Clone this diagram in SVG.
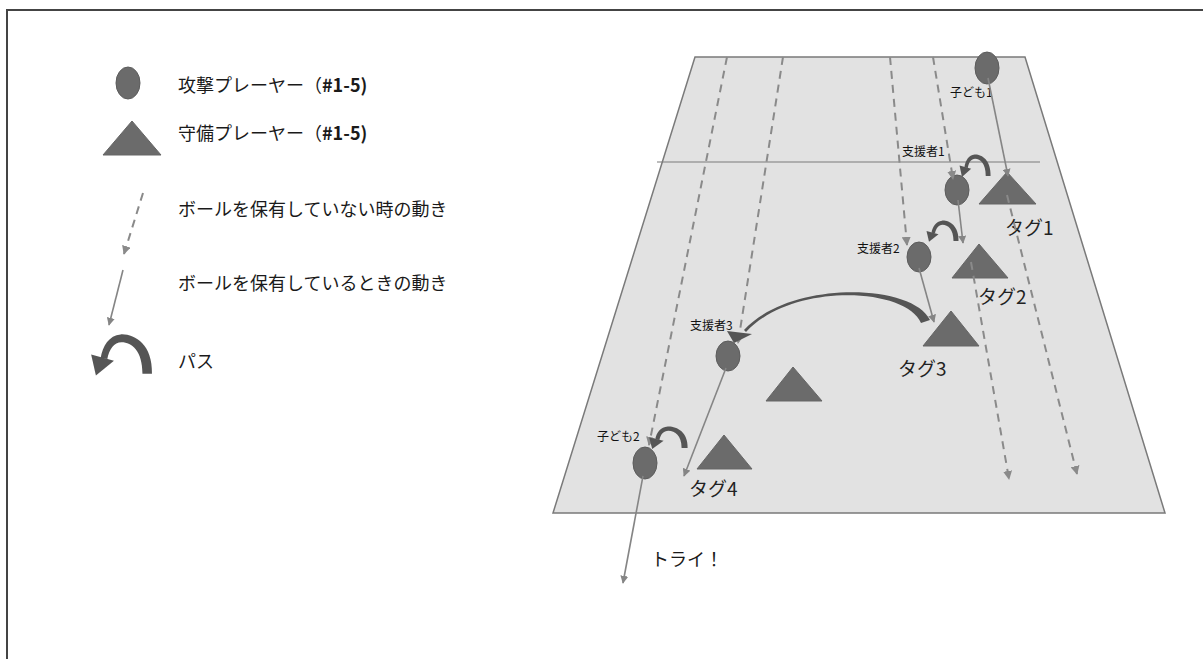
<svg xmlns="http://www.w3.org/2000/svg" xmlns:xlink="http://www.w3.org/1999/xlink" width="1203" height="659" viewBox="0 0 1203 659">
<style>
.jp{font-family:"Noto Sans CJK JP","Noto Sans",sans-serif;fill:#1a1a1a}
.leg{font-size:18px}
.lbl{font-size:12px;fill:#111}
.tag{font-size:19px;fill:#222}
.player{fill:#6b6b6b;stroke:#5c5c5c;stroke-width:1}
.def{fill:#6b6b6b;stroke:#666;stroke-width:1}
.dash{stroke:#8a8a8a;stroke-width:2;fill:none;stroke-dasharray:8 6}
.solid{stroke:#858585;stroke-width:1.6;fill:none}
.pass{fill:#555}
</style>
<defs>
<marker id="ah" viewBox="0 0 10 10" refX="9" refY="5" markerWidth="8" markerHeight="8" markerUnits="userSpaceOnUse" orient="auto">
<path d="M0,0 L10,5 L0,10 Z" fill="#858585"/>
</marker>
<marker id="ahd" viewBox="0 0 10 10" refX="9" refY="5" markerWidth="9" markerHeight="9" markerUnits="userSpaceOnUse" orient="auto">
<path d="M0,0 L10,5 L0,10 Z" fill="#8a8a8a"/>
</marker>
<g id="passShape">
<path d="M30.5 21 C31 4 21 -2 14 -1.5 C8 -1 4.5 5 3.5 12 L7 12.5 C8 7 10.5 3 14.5 3 C20 3 25.5 8 25.5 21 Z"/>
<path d="M-1.5 10 L10.5 13.5 L1 22 Z"/>
</g>
</defs>
<rect width="1203" height="659" fill="#fff"/>
<path d="M7 659 V10 H1203" fill="none" stroke="#444" stroke-width="2"/>

<g id="field">
<polygon points="695,57 1025,57 1165,513 553,513" fill="#e2e2e2" stroke="#7a7a7a" stroke-width="1.5"/>
<line x1="657" y1="162" x2="1040" y2="162" stroke="#7a7a7a" stroke-width="1.2"/>
</g>

<g id="legend">
<g id="legend-attacker">
<ellipse class="player" cx="128" cy="83" rx="12" ry="16"/>
<text class="jp leg" x="178" y="92">攻撃プレーヤー（<tspan font-weight="bold">#1-5)</tspan></text>
</g>
<g id="legend-defender">
<polygon class="def" points="103,155 161,155 132,121"/>
<text class="jp leg" x="178" y="140">守備プレーヤー（<tspan font-weight="bold">#1-5)</tspan></text>
</g>
<g id="legend-nomove">
<line class="dash" x1="143" y1="193" x2="124" y2="254" marker-end="url(#ahd)"/>
<text class="jp leg" x="178" y="216">ボールを保有していない時の動き</text>
</g>
<g id="legend-move">
<line class="solid" x1="123" y1="270" x2="109" y2="325" marker-end="url(#ah)"/>
<text class="jp leg" x="178" y="290">ボールを保有しているときの動き</text>
</g>
<g id="legend-pass">
<use xlink:href="#passShape" class="pass" transform="translate(94,337) scale(1.9,1.75)"/>
<text class="jp leg" x="178" y="368">パス</text>
</g>
</g>

<g id="defenders">
<g id="tag1"><polygon class="def" points="979,204 1036,204 1007,172"/><text class="jp tag" x="1005" y="235">タグ1</text></g>
<g id="tag2"><polygon class="def" points="952,278 1008,278 979,244"/><text class="jp tag" x="978" y="304">タグ2</text></g>
<g id="tag3"><polygon class="def" points="923,346 979,346 951,311"/><text class="jp tag" x="898" y="376">タグ3</text></g>
<g id="defender5"><polygon class="def" points="766,401 822,401 793,367"/></g>
<g id="tag4"><polygon class="def" points="697,469 752,469 724,435"/><text class="jp tag" x="689" y="496">タグ4</text></g>
</g>

<g id="attackers">
<g id="kodomo1"><ellipse class="player" cx="987" cy="68" rx="12" ry="16"/><text class="jp lbl" x="950" y="97">子ども1</text></g>
<g id="shiensha1"><ellipse class="player" cx="957" cy="190" rx="12" ry="15"/><text class="jp lbl" x="902" y="156">支援者1</text></g>
<g id="shiensha2"><ellipse class="player" cx="919" cy="257" rx="12" ry="15"/><text class="jp lbl" x="857" y="253">支援者2</text></g>
<g id="shiensha3"><ellipse class="player" cx="728" cy="356" rx="12" ry="15"/><text class="jp lbl" x="690" y="330">支援者3</text></g>
<g id="kodomo2"><ellipse class="player" cx="645" cy="463" rx="12" ry="16"/><text class="jp lbl" x="597" y="441">子ども2</text></g>
</g>

<g id="connectors">
<line class="dash" x1="727" y1="57" x2="649" y2="445" marker-end="url(#ahd)"/>
<line class="dash" x1="783" y1="57" x2="738" y2="343" marker-end="url(#ahd)"/>
<line class="dash" x1="890" y1="57" x2="907" y2="245" marker-end="url(#ahd)"/>
<line class="dash" x1="933" y1="57" x2="953" y2="179" marker-end="url(#ahd)"/>
<line class="dash" x1="1007" y1="195" x2="1077" y2="474" marker-end="url(#ahd)"/>
<line class="dash" x1="971" y1="262" x2="1009" y2="479" marker-end="url(#ahd)"/>

<line class="solid" x1="988" y1="78" x2="1008" y2="176" marker-end="url(#ah)"/>
<line class="solid" x1="958" y1="200" x2="963" y2="243" marker-end="url(#ah)"/>
<line class="solid" x1="919" y1="268" x2="934" y2="322" marker-end="url(#ah)"/>
<line class="solid" x1="726" y1="368" x2="684" y2="476" marker-end="url(#ah)"/>
<line class="solid" x1="643" y1="476" x2="623" y2="583" marker-end="url(#ah)"/>

<use xlink:href="#passShape" class="pass" transform="translate(961,156) scale(0.97,0.95)"/>
<use xlink:href="#passShape" class="pass" transform="translate(928,222) scale(1.0,0.9)"/>
<use xlink:href="#passShape" class="pass" transform="translate(651,428) scale(1.2,0.95)"/>

<g class="pass">
<path d="M930 320 C912 283 790 280 744 330 L746 332 C792 282 906 287 921 323 Z"/>
<path d="M727 331 L752 334 L734 343 Z"/>
</g>
</g>

<g id="try"><text class="jp" font-size="18" x="651" y="566">トライ！</text></g>
</svg>
